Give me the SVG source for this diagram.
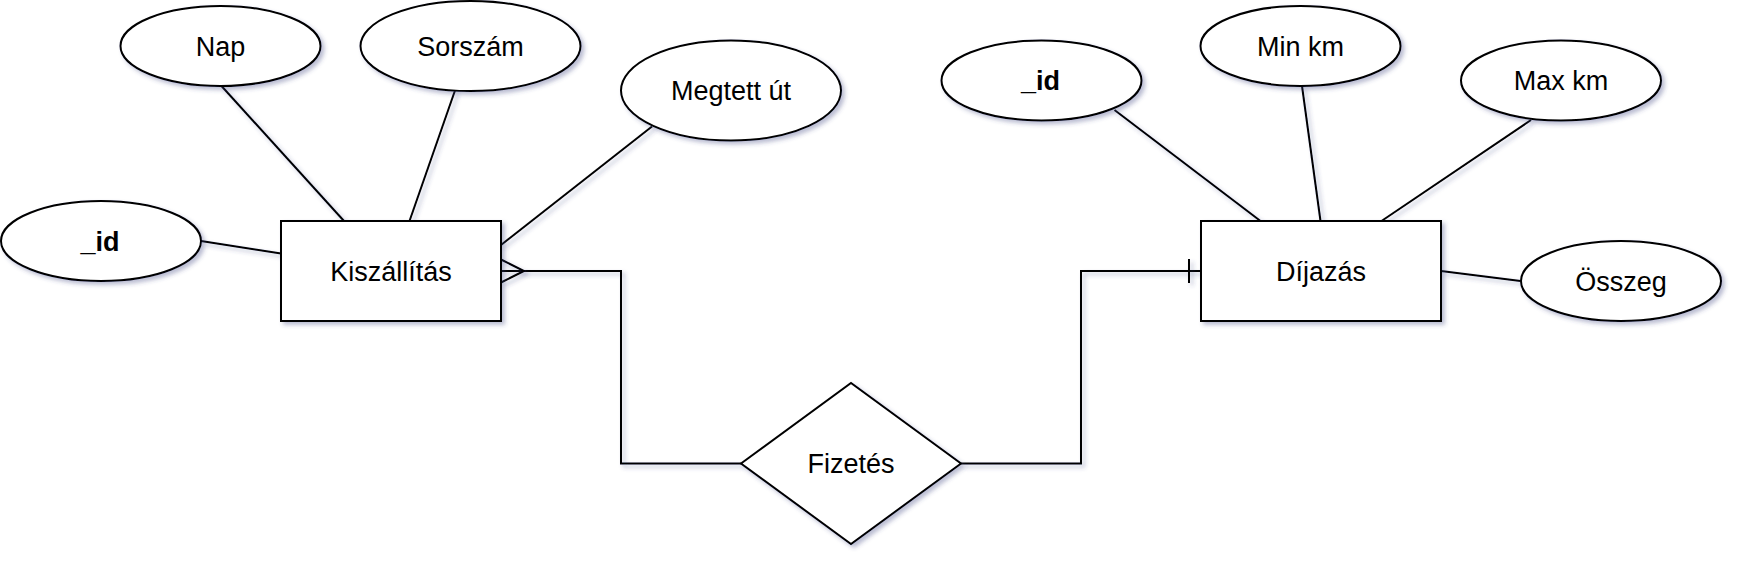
<svg xmlns="http://www.w3.org/2000/svg" width="1744" height="564" viewBox="0 0 1744 564">
<defs>
<filter id="sh" filterUnits="userSpaceOnUse" x="0" y="0" width="1744" height="564">
<feDropShadow dx="3" dy="3" stdDeviation="2" flood-color="#3d4580" flood-opacity="0.35"/>
</filter>
<style>
.shape{fill:#fff;stroke:#000;stroke-width:2;filter:url(#sh)}
.ln{fill:none;stroke:#000;stroke-width:2;filter:url(#sh)}
text{font-family:"Liberation Sans",Arial,Helvetica,sans-serif;font-size:27px;fill:#000;text-anchor:middle}
.b{font-weight:bold}
</style>
</defs>
<rect width="1744" height="564" fill="#fff"/>
<g id="connectors">
<line class="ln" x1="221.5" y1="86" x2="344" y2="221"/>
<line class="ln" x1="455" y1="90.5" x2="409.5" y2="221"/>
<line class="ln" x1="201" y1="241" x2="281" y2="253.5"/>
<line class="ln" x1="501" y1="245" x2="652" y2="126.5"/>
<line class="ln" x1="1114.5" y1="110" x2="1260.5" y2="221"/>
<line class="ln" x1="1302" y1="86" x2="1320.5" y2="221"/>
<line class="ln" x1="1531" y1="120" x2="1381.5" y2="221"/>
<line class="ln" x1="1441" y1="271" x2="1520.5" y2="281"/>
<path class="ln" d="M501,271 L621,271 L621,463.5 L741,463.5"/>
<path class="ln" d="M501,259.5 L524,271 L501,282.5"/>
<path class="ln" d="M961,463.5 L1081,463.5 L1081,271 L1201,271"/>
<line class="ln" x1="1189" y1="259" x2="1189" y2="283"/>
</g>
<g id="n-nap"><ellipse class="shape" cx="220.5" cy="46" rx="100" ry="40"/><text x="220.5" y="55.5">Nap</text></g>
<g id="n-sorszam"><ellipse class="shape" cx="470.5" cy="46" rx="110" ry="45"/><text x="470.5" y="55.5">Sorszám</text></g>
<g id="n-id1"><ellipse class="shape" cx="101" cy="241" rx="100" ry="40"/><text class="b" x="100" y="250.5">_id</text></g>
<g id="n-megtett"><ellipse class="shape" cx="731" cy="90.5" rx="110" ry="50"/><text x="731" y="100">Megtett út</text></g>
<g id="n-kiszallitas"><rect class="shape" x="281" y="221" width="220" height="100"/><text x="391" y="280.5">Kiszállítás</text></g>
<g id="n-fizetes"><polygon class="shape" points="741,463.5 851,383 961,463.5 851,544"/><text x="851" y="473">Fizetés</text></g>
<g id="n-dijazas"><rect class="shape" x="1201" y="221" width="240" height="100"/><text x="1321" y="280.5">Díjazás</text></g>
<g id="n-id2"><ellipse class="shape" cx="1041.5" cy="80.5" rx="100" ry="40"/><text class="b" x="1040.5" y="90">_id</text></g>
<g id="n-minkm"><ellipse class="shape" cx="1300.5" cy="46" rx="100" ry="40"/><text x="1300.5" y="55.5">Min km</text></g>
<g id="n-maxkm"><ellipse class="shape" cx="1561" cy="80.5" rx="100" ry="40"/><text x="1561" y="90">Max km</text></g>
<g id="n-osszeg"><ellipse class="shape" cx="1621" cy="281" rx="100" ry="40"/><text x="1621" y="290.5">Összeg</text></g>
</svg>
